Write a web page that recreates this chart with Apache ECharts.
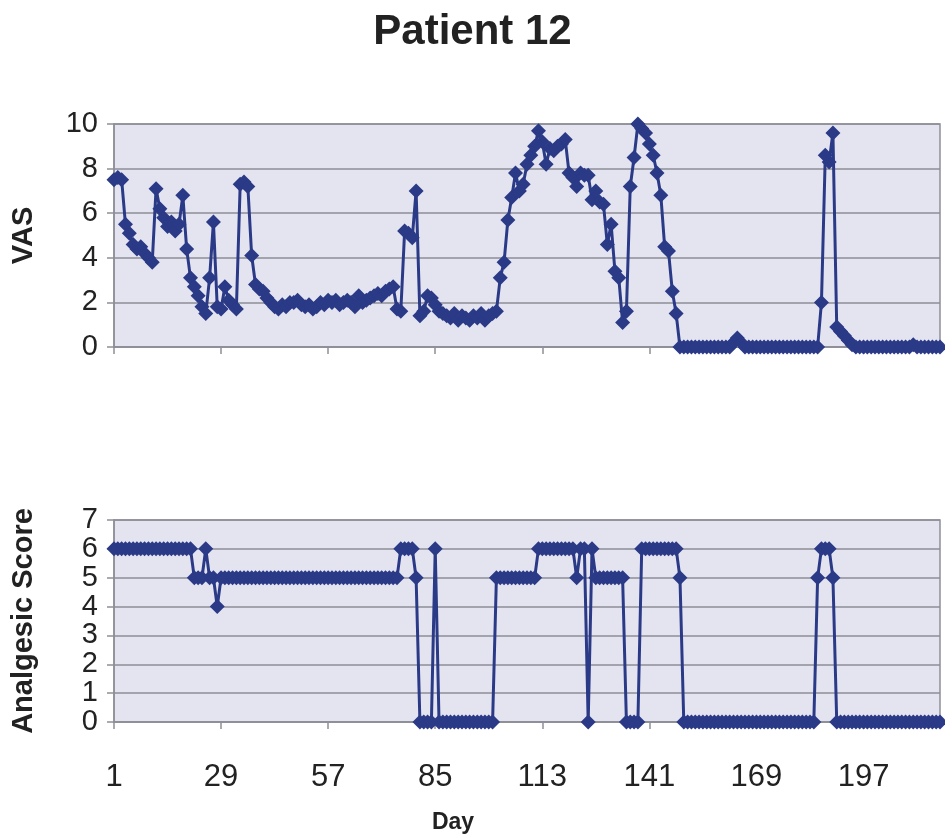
<!DOCTYPE html>
<html>
<head>
<meta charset="utf-8">
<script src="https://cdn.jsdelivr.net/npm/echarts@6/dist/echarts.min.js"></script>
<style>
  html, body { margin: 0; padding: 0; background: #ffffff; }
  #chart { width: 945px; height: 840px; }
</style>
</head>
<body>
<div id="chart"></div>
<script>
// Day categories (1 .. 217)
const days = [];
for (let d = 1; d <= 217; d++) days.push(String(d));

// VAS values per day
const vasDays1to40 = [7.5, 7.6, 7.5, 5.5, 5.1, 4.6, 4.4, 4.5, 4.2, 4.0,
  3.8, 7.1, 6.2, 5.8, 5.4, 5.6, 5.2, 5.5, 6.8, 4.4,
  3.1, 2.7, 2.3, 1.8, 1.5, 3.1, 5.6, 1.8, 1.7, 2.7,
  2.1, 1.9, 1.7, 7.3, 7.4, 7.2, 4.1, 2.8, 2.6, 2.5];
const vasDays41to80 = [2.2, 2.0, 1.8, 1.7, 1.9, 1.8, 2.0, 2.0, 2.1, 1.9,
  1.8, 1.9, 1.7, 1.8, 2.0, 1.9, 2.1, 2.0, 2.1, 1.9,
  2.0, 2.1, 2.0, 1.8, 2.3, 2.0, 2.1, 2.2, 2.3, 2.4,
  2.3, 2.5, 2.6, 2.7, 1.7, 1.6, 5.2, 5.1, 4.9, 7.0];
const vasDays81to120 = [1.4, 1.6, 2.3, 2.2, 1.9, 1.6, 1.5, 1.4, 1.3, 1.5,
  1.2, 1.4, 1.3, 1.2, 1.4, 1.3, 1.5, 1.2, 1.4, 1.5,
  1.6, 3.1, 3.8, 5.7, 6.7, 7.8, 7.0, 7.3, 8.2, 8.6,
  9.0, 9.7, 9.2, 8.2, 8.9, 8.8, 9.0, 9.1, 9.3, 7.8];
const vasDays121to160 = [7.6, 7.2, 7.8, 7.7, 7.7, 6.6, 7.0, 6.5, 6.4, 4.6,
  5.5, 3.4, 3.1, 1.1, 1.6, 7.2, 8.5, 10.0, 9.8, 9.6,
  9.1, 8.6, 7.8, 6.8, 4.5, 4.3, 2.5, 1.5, 0, 0,
  0, 0, 0, 0, 0, 0, 0, 0, 0, 0];
const vasDays161to217 = [0, 0, 0.2, 0.4, 0.2, 0, 0, 0, 0, 0,
  0, 0, 0, 0, 0, 0, 0, 0, 0, 0,
  0, 0, 0, 0, 0, 2.0, 8.6, 8.3, 9.6, 0.9,
  0.7, 0.5, 0.3, 0.1, 0, 0, 0, 0, 0, 0,
  0, 0, 0, 0, 0, 0, 0, 0, 0, 0.1,
  0, 0, 0, 0, 0, 0, 0];
const vas = [].concat(vasDays1to40, vasDays41to80, vasDays81to120, vasDays121to160, vasDays161to217);

// Analgesic score per day
const analgesicDays1to40 = [6, 6, 6, 6, 6, 6, 6, 6, 6, 6,
  6, 6, 6, 6, 6, 6, 6, 6, 6, 6,
  6, 5, 5, 5, 6, 5, 5, 4, 5, 5,
  5, 5, 5, 5, 5, 5, 5, 5, 5, 5];
const analgesicDays41to80 = [5, 5, 5, 5, 5, 5, 5, 5, 5, 5,
  5, 5, 5, 5, 5, 5, 5, 5, 5, 5,
  5, 5, 5, 5, 5, 5, 5, 5, 5, 5,
  5, 5, 5, 5, 5, 6, 6, 6, 6, 5];
const analgesicDays81to120 = [0, 0, 0, 0, 6, 0, 0, 0, 0, 0,
  0, 0, 0, 0, 0, 0, 0, 0, 0, 0,
  5, 5, 5, 5, 5, 5, 5, 5, 5, 5,
  5, 6, 6, 6, 6, 6, 6, 6, 6, 6];
const analgesicDays121to160 = [6, 5, 6, 6, 0, 6, 5, 5, 5, 5,
  5, 5, 5, 5, 0, 0, 0, 0, 6, 6,
  6, 6, 6, 6, 6, 6, 6, 6, 5, 0,
  0, 0, 0, 0, 0, 0, 0, 0, 0, 0];
const analgesicDays161to217 = [0, 0, 0, 0, 0, 0, 0, 0, 0, 0,
  0, 0, 0, 0, 0, 0, 0, 0, 0, 0,
  0, 0, 0, 0, 5, 6, 6, 6, 5, 0,
  0, 0, 0, 0, 0, 0, 0, 0, 0, 0,
  0, 0, 0, 0, 0, 0, 0, 0, 0, 0,
  0, 0, 0, 0, 0, 0, 0];
const analgesic = [].concat(analgesicDays1to40, analgesicDays41to80, analgesicDays81to120, analgesicDays121to160, analgesicDays161to217);

const titleText = 'Patient 12';
const vasName = 'VAS';
const analgesicName = 'Analgesic Score';
const xName = 'Day';

const FONT = '"Liberation Sans", Arial, sans-serif';
const MARK = '#2b3a87';
const GRIDLINE = '#8e8e98';
const PLOTBG = '#e4e4f0';

const chart = echarts.init(document.getElementById('chart'), null, { renderer: 'canvas' });

function xAxisBase(gridIndex, showLabels) {
  return {
    type: 'category', gridIndex: gridIndex, data: days, boundaryGap: false,
    axisLine: { show: true, lineStyle: { color: GRIDLINE, width: 1.5 } },
    axisTick: { show: true, interval: 27, length: 7, lineStyle: { color: GRIDLINE, width: 1.5 } },
    axisLabel: { show: showLabels, interval: 27, margin: 40, fontSize: 31, color: '#222', fontFamily: FONT },
    splitLine: { show: false }
  };
}

function yAxisBase(gridIndex, max, interval, name, gap) {
  return {
    type: 'value', gridIndex: gridIndex, min: 0, max: max, interval: interval,
    name: name, nameLocation: 'middle', nameGap: gap, nameRotate: 90,
    nameTextStyle: { fontSize: 29, fontWeight: 'bold', color: '#222', fontFamily: FONT },
    axisLine: { show: true, lineStyle: { color: GRIDLINE, width: 1.5 } },
    axisTick: { show: true, length: 7, lineStyle: { color: GRIDLINE, width: 1.5 } },
    axisLabel: { fontSize: 29, lineHeight: 22, color: '#222', margin: 16, fontFamily: FONT,
      showMinLabel: true, showMaxLabel: true, hideOverlap: false },
    splitLine: { show: true, lineStyle: { color: GRIDLINE, width: 1.5 } }
  };
}

const option = {
  backgroundColor: '#ffffff',
  animation: false,
  title: [
    {
      text: titleText, left: 'center', top: 6,
      textStyle: { fontSize: 42, fontWeight: 'bold', color: '#222', fontFamily: FONT }
    },
    {
      text: xName, left: 448, top: 806, textAlign: 'center',
      textStyle: { fontSize: 23, fontWeight: 'bold', color: '#222', fontFamily: FONT }
    }
  ],
  grid: [
    { left: 114, right: 5, top: 124, height: 223, show: true, backgroundColor: PLOTBG, borderColor: GRIDLINE, borderWidth: 1.5 },
    { left: 114, right: 5, top: 520, height: 202, show: true, backgroundColor: PLOTBG, borderColor: GRIDLINE, borderWidth: 1.5 }
  ],
  xAxis: [xAxisBase(0, false), xAxisBase(1, true)],
  yAxis: [yAxisBase(0, 10, 2, vasName, 76), yAxisBase(1, 7, 1, analgesicName, 76)],
  series: [
    {
      type: 'line', xAxisIndex: 0, yAxisIndex: 0, data: vas,
      symbol: 'diamond', symbolSize: 15, showAllSymbol: true,
      itemStyle: { color: MARK }, lineStyle: { color: MARK, width: 3 }
    },
    {
      type: 'line', xAxisIndex: 1, yAxisIndex: 1, data: analgesic,
      symbol: 'diamond', symbolSize: 15, showAllSymbol: true,
      itemStyle: { color: MARK }, lineStyle: { color: MARK, width: 3 }
    }
  ]
};
chart.setOption(option);
</script>
</body>
</html>
